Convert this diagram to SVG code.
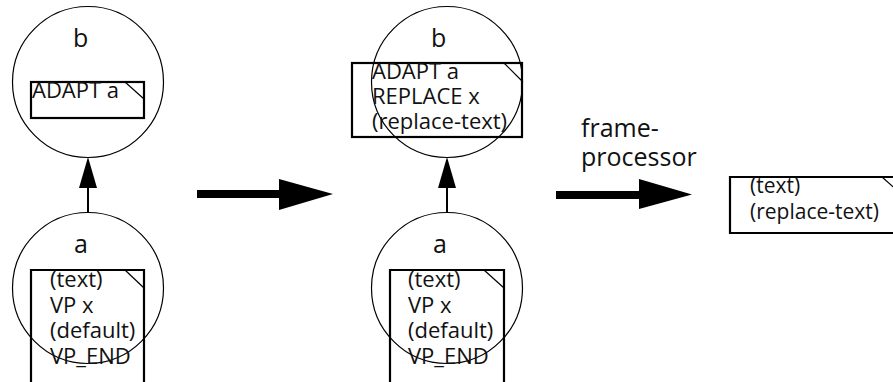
<svg xmlns="http://www.w3.org/2000/svg" width="893" height="382" viewBox="0 0 893 382">
  <style>
    .circle { fill: none; stroke: #000; stroke-width: 1.2; }
    .frame { fill: none; stroke: #000; stroke-width: 2.2; }
    .ear { fill: none; stroke: #000; stroke-width: 1.2; }
    .label { font-family: "Open Sans", "Liberation Sans", sans-serif; font-size: 25px; fill: #111; }
    .code { font-family: "Open Sans", "Liberation Sans", sans-serif; font-size: 22px; fill: #111; }
    .code-sm { font-family: "Open Sans", "Liberation Sans", sans-serif; font-size: 21px; fill: #111; }
    .link { fill: none; stroke: #000; stroke-width: 2; }
    .bigarrow { fill: #000; stroke: none; }
  </style>
  <defs>
    <marker id="head" markerUnits="userSpaceOnUse" viewBox="0 0 31 18" markerWidth="31" markerHeight="18" refX="17" refY="9" orient="auto">
      <path d="M0,0 L31,9 L0,18 Z" fill="#000"/>
    </marker>
  </defs>

  <rect width="893" height="382" fill="#fff"/>

  <!-- connectors -->
  <g id="connectors">
    <path class="link" d="M88,213 V171" marker-end="url(#head)"/>
    <path class="link" d="M447,213 V171" marker-end="url(#head)"/>
    <path class="bigarrow" d="M197,190 H279 V179 L333,194 L279,210 V198 H197 Z"/>
    <path class="bigarrow" d="M556,191 H639 V179 L692,194.5 L639,209 V199 H556 Z"/>
    <text class="label" x="581" y="137">frame-</text>
    <text class="label" x="581" y="166">processor</text>
  </g>

  <!-- left: frame b adapting a -->
  <g id="node-b1">
    <circle class="circle" cx="88" cy="82" r="75.5"/>
    <text class="label" x="73" y="47">b</text>
    <rect class="frame" x="31" y="82" width="113" height="36"/>
    <line class="ear" x1="125" y1="82" x2="144" y2="99"/>
    <text class="code" x="32" y="98">ADAPT a</text>
  </g>

  <!-- left: frame a -->
  <g id="node-a1">
    <circle class="circle" cx="88" cy="288" r="75.5"/>
    <text class="label" x="74" y="253">a</text>
    <path class="frame" d="M31,384 V270 H144 V384"/>
    <line class="ear" x1="125" y1="270" x2="144" y2="288"/>
    <text class="code" x="50" y="287">(text)</text>
    <text class="code" x="50" y="312.5">VP x</text>
    <text class="code" x="50" y="338">(default)</text>
    <text class="code" x="50" y="363.5">VP_END</text>
  </g>

  <!-- middle: frame b with replacement -->
  <g id="node-b2">
    <circle class="circle" cx="447" cy="82" r="75.5"/>
    <text class="label" x="431" y="47">b</text>
    <rect class="frame" x="352" y="63" width="170" height="74"/>
    <line class="ear" x1="504" y1="63" x2="522" y2="81"/>
    <text class="code" x="372" y="79">ADAPT a</text>
    <text class="code" x="372" y="104">REPLACE x</text>
    <text class="code" x="372" y="129">(replace-text)</text>
  </g>

  <!-- middle: frame a -->
  <g id="node-a2">
    <circle class="circle" cx="447" cy="288" r="75.5"/>
    <text class="label" x="433" y="253">a</text>
    <path class="frame" d="M390,384 V270 H504 V384"/>
    <line class="ear" x1="484" y1="270" x2="504" y2="288"/>
    <text class="code" x="408" y="287">(text)</text>
    <text class="code" x="408" y="312.5">VP x</text>
    <text class="code" x="408" y="338">(default)</text>
    <text class="code" x="408" y="363.5">VP_END</text>
  </g>

  <!-- right: processed output -->
  <g id="node-output">
    <path class="frame" d="M900,177 H730 V233 H900"/>
    <line class="ear" x1="882" y1="177" x2="900" y2="193"/>
    <text class="code-sm" x="750" y="193">(text)</text>
    <text class="code-sm" x="750" y="219">(replace-text)</text>
  </g>
</svg>
